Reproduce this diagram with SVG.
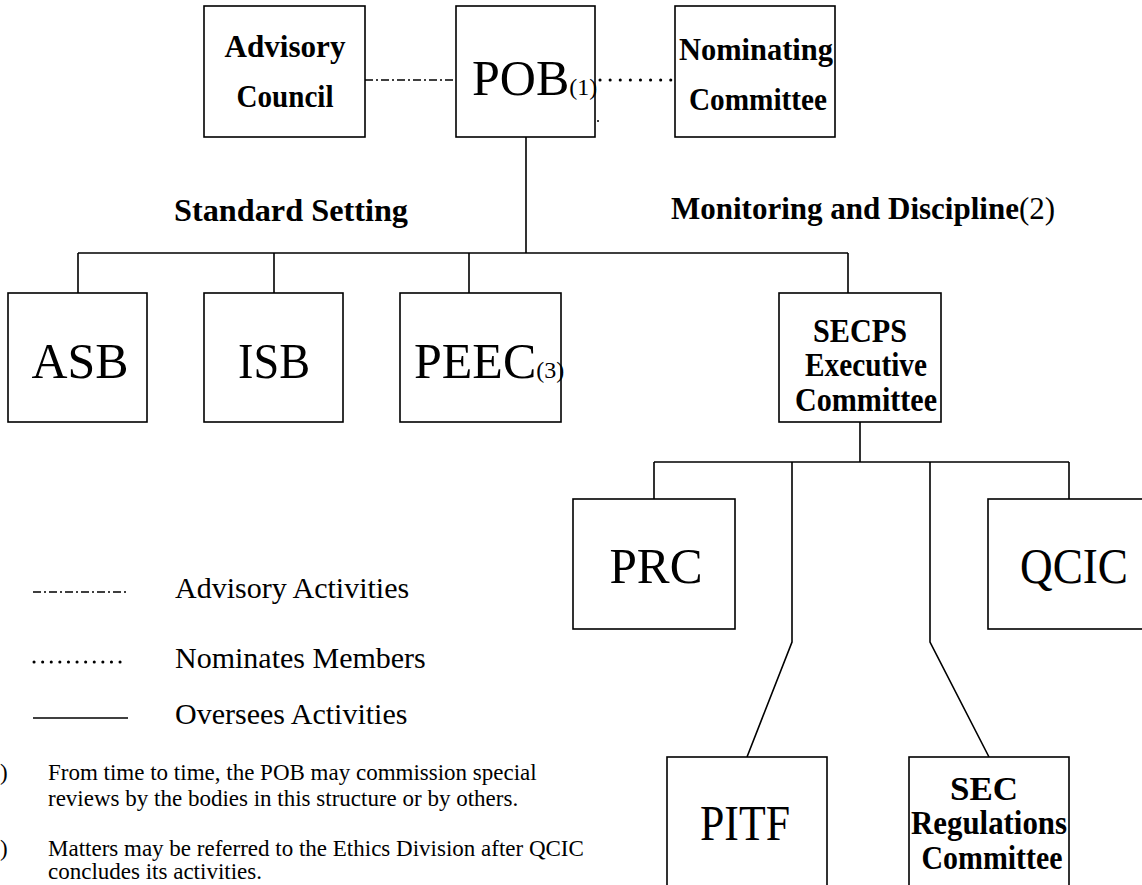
<svg xmlns="http://www.w3.org/2000/svg" width="1142" height="885" viewBox="0 0 1142 885">
<style>
.box{fill:#fff;stroke:#000;stroke-width:1.6}
.ln{fill:none;stroke:#000;stroke-width:1.6}
.dd{stroke-dasharray:8 3 2 3}
.dot{stroke-width:3;stroke-linecap:round}
.b{font-family:"Liberation Serif","Times New Roman",serif;font-weight:bold;font-size:31px;fill:#000;text-anchor:middle}
.b2{font-size:34px}
.big{font-family:"Liberation Serif","Times New Roman",serif;font-size:50px;fill:#000;text-anchor:middle}
.st{text-anchor:start}
.sub{font-size:24px}
.leg{font-family:"Liberation Serif","Times New Roman",serif;font-size:30px;fill:#000}
.fn{font-family:"Liberation Serif","Times New Roman",serif;font-size:23px;fill:#000}
</style>
<rect width="1142" height="885" fill="#fff"/>
<g id="connectors">
<path class="ln dd" d="M365 80H456"/>
<path class="ln dot" d="M600 80H672" stroke-dasharray="0.1 10"/>
<path class="ln" d="M526 137V253M78 253H848M78 253V293M274 253V293M469 253V293M848 253V293"/>
<path class="ln" d="M860 422V462M654 462H1069M654 462V499M1069 462V499M792 462V642L747 757M930 462V642L989 757"/>
</g>
<g id="advisory"><rect class="box" x="204" y="6" width="161" height="131"/>
<text class="b" x="285" y="57" textLength="121" lengthAdjust="spacingAndGlyphs">Advisory</text><text class="b" x="285" y="107" textLength="97" lengthAdjust="spacingAndGlyphs">Council</text></g>
<g id="pob"><rect class="box" x="456" y="6" width="139" height="131"/>
<text class="big st" x="472" y="95" font-size="45">POB<tspan class="sub">(1)</tspan></text></g>
<g id="nominating"><rect class="box" x="675" y="6" width="160" height="131"/>
<text class="b" x="756" y="60" textLength="154" lengthAdjust="spacingAndGlyphs">Nominating</text><text class="b" x="758" y="110" textLength="138" lengthAdjust="spacingAndGlyphs">Committee</text></g>
<circle cx="598" cy="121" r="1" fill="#000"/>
<text class="b" x="291" y="221" font-size="32" textLength="234" lengthAdjust="spacingAndGlyphs">Standard Setting</text>
<text class="b st" x="671" y="219" font-size="30.5">Monitoring and Discipline<tspan font-weight="normal">(2)</tspan></text>
<g id="asb"><rect class="box" x="8" y="293" width="139" height="129"/><text class="big" x="80" y="378" textLength="97" lengthAdjust="spacingAndGlyphs">ASB</text></g>
<g id="isb"><rect class="box" x="204" y="293" width="139" height="129"/><text class="big" x="274" y="378" textLength="72" lengthAdjust="spacingAndGlyphs">ISB</text></g>
<g id="peec"><rect class="box" x="400" y="293" width="161" height="129"/><text class="big st" x="414" y="378" font-size="45">PEEC<tspan class="sub">(3)</tspan></text></g>
<g id="secps"><rect class="box" x="779" y="293" width="162" height="129"/>
<text class="b b2" x="860" y="342" textLength="94" lengthAdjust="spacingAndGlyphs">SECPS</text><text class="b b2" x="866" y="376" textLength="122" lengthAdjust="spacingAndGlyphs">Executive</text><text class="b b2" x="866" y="411" textLength="142" lengthAdjust="spacingAndGlyphs">Committee</text></g>
<g id="prc"><rect class="box" x="573" y="499" width="162" height="130"/><text class="big" x="656" y="583" textLength="93" lengthAdjust="spacingAndGlyphs">PRC</text></g>
<g id="qcic"><rect class="box" x="988" y="499" width="160" height="130"/><text class="big" x="1074" y="583" textLength="108" lengthAdjust="spacingAndGlyphs">QCIC</text></g>
<g id="pitf"><rect class="box" x="667" y="757" width="160" height="135"/><text class="big" x="745" y="840" textLength="90" lengthAdjust="spacingAndGlyphs">PITF</text></g>
<g id="secreg"><rect class="box" x="909" y="757" width="160" height="135"/>
<text class="b b2" x="984" y="800" textLength="68" lengthAdjust="spacingAndGlyphs">SEC</text><text class="b b2" x="989" y="834" textLength="156" lengthAdjust="spacingAndGlyphs">Regulations</text><text class="b b2" x="992" y="869" textLength="141" lengthAdjust="spacingAndGlyphs">Committee</text></g>
<g id="legend">
<path class="ln dd" d="M33 592H128"/>
<path class="ln dot" d="M34 662H128" stroke-dasharray="0.1 8.5"/>
<path class="ln" d="M33 718H128"/>
<text class="leg" x="175" y="598">Advisory Activities</text>
<text class="leg" x="175" y="668">Nominates Members</text>
<text class="leg" x="175" y="724">Oversees Activities</text>
</g>
<g id="notes">
<text class="fn" x="0" y="780">)</text>
<text class="fn" x="48" y="780">From time to time, the POB may commission special</text>
<text class="fn" x="48" y="806">reviews by the bodies in this structure or by others.</text>
<text class="fn" x="0" y="856">)</text>
<text class="fn" x="48" y="856">Matters may be referred to the Ethics Division after QCIC</text>
<text class="fn" x="48" y="879">concludes its activities.</text>
</g>
</svg>
